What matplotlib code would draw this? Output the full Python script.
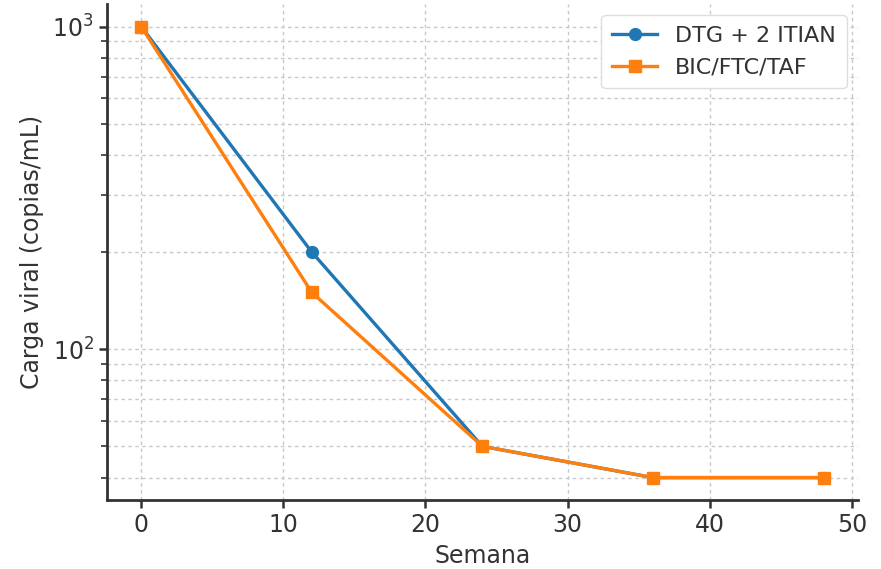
import matplotlib
matplotlib.use("Agg")
import matplotlib.pyplot as plt

weeks = [0, 12, 24, 36, 48]
dtg_values = [1000, 200, 50, 40, 40]
bic_values = [1000, 150, 50, 40, 40]
labels = ["DTG + 2 ITIAN", "BIC/FTC/TAF"]

fig = plt.figure(figsize=(8.81, 5.69), dpi=100)
ax = fig.add_axes([0.1215, 0.121, 0.852, 0.872])

ax.plot(weeks, dtg_values, marker="o", color="#1f77b4", lw=2.4, ms=8.5, label=labels[0])
ax.plot(weeks, bic_values, marker="s", color="#ff7f0e", lw=2.4, ms=8.5, label=labels[1])
ax.set_yscale("log")

ax.set_xlabel("Semana", fontsize=17, color="#333333", labelpad=5)
ax.set_ylabel("Carga viral (copias/mL)", fontsize=17, color="#333333", labelpad=6)

ax.grid(True, which="both", linestyle=(0, (2.5, 2.5)), color="#c8c8c8", lw=1)
ax.tick_params(axis="both", which="major", labelsize=17, colors="#333333", width=1.8, length=6)
ax.tick_params(axis="y", which="minor", width=1.2, length=4, colors="#333333")
for s in ["top", "right"]:
    ax.spines[s].set_visible(False)
for s in ["left", "bottom"]:
    ax.spines[s].set_linewidth(2)
    ax.spines[s].set_color("#333333")

leg = ax.legend(loc="upper right", fontsize=16, frameon=True, framealpha=1,
                edgecolor="#dddddd", borderpad=0.5, handlelength=2)
for t in leg.get_texts():
    t.set_color("#333333")

fig.savefig("out.png", dpi=100)
